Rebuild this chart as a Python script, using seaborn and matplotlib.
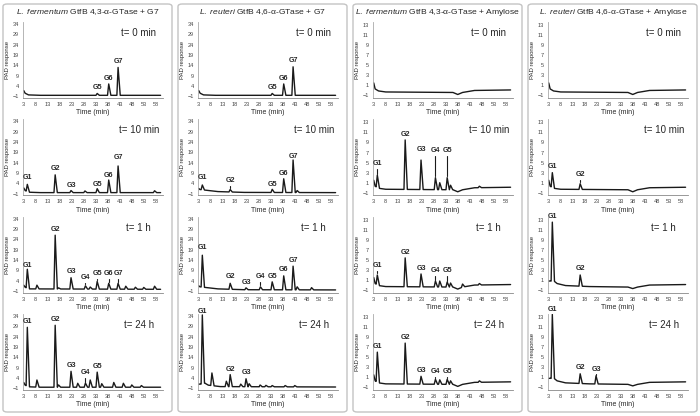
import numpy as np
import matplotlib
matplotlib.use('Agg')
import matplotlib.pyplot as plt
import seaborn as sns
from matplotlib.patches import FancyBboxPatch

sns.set_style('white')
plt.rcParams['font.family'] = ['Liberation Sans', 'DejaVu Sans']
plt.rcParams['mathtext.fontset'] = 'custom'
plt.rcParams['mathtext.it'] = 'Liberation Sans:italic'
plt.rcParams['mathtext.rm'] = 'Liberation Sans'

titles = [r'$\it{L.\ fermentum}$ GtfB 4,3-α-GTase + G7',
          r'$\it{L.\ reuteri}$ GtfB 4,6-α-GTase + G7',
          r'$\it{L.\ fermentum}$ GtfB 4,3-α-GTase + Amylose',
          r'$\it{L.\ reuteri}$ GtfB 4,6-α-GTase + Amylose']
times = ['t= 0 min', 't= 10 min', 't= 1 h', 't= 24 h']
g_names = ['G1', 'G2', 'G3', 'G4', 'G5', 'G6', 'G7']
g_rt = [4.5, 16.1, 22.7, 28.7, 33.6, 38.4, 42.3]
x_ticks = list(range(3, 59, 5))
y_ticks_g7 = [-1, 4, 9, 14, 19, 24, 29, 34]
y_ticks_amy = [-1, 1, 3, 5, 7, 9, 11, 13]

# baselines (time, response)
base_g7 = [(3, 1.8), (3.6, 0.5), (5, -0.3), (10, -0.5), (60, -0.5)]
base_g7_noisy = [(3, 1.8), (3.6, 0.8), (5, 0.0), (60, -0.2)]
base_lr_early = [(3, 1.5), (3.5, 1.0), (5, 0.8), (11, 0.0), (22, -0.4), (60, -0.5)]
base_lr_24h = [(3, 1.0), (3.8, 1.0), (5.5, 1.5), (7, 0.5), (12, -0.2), (60, -0.4)]
base_amy = [(3, 1.5), (3.6, 0.3), (5, -0.1), (8, -0.3), (36, -0.4), (38, -0.8),
            (40, -0.4), (45, 0.0), (60, 0.1)]
base_amy_g1 = [(3, 0.8), (3.8, 0.8), (5.2, 0.8), (6.5, 0.3), (10, -0.1), (20, -0.3),
               (36, -0.4), (38, -0.7), (40, -0.4), (45, 0.0), (60, 0.1)]

# apex heights of G1..G7 (0 = no peak)
lf_g7_heights = [[0, 0, 0, 0, 0.4, 5.0, 13.0],
                 [3.5, 8.1, 0.5, 0, 1.4, 5.6, 12.4],
                 [9.5, 26.0, 5.4, 1.5, 3.6, 2.7, 2.7],
                 [28.5, 29.5, 7.2, 1.5, 6.8, 0, 0]]
lr_g7_heights = [[0, 0, 0, 0, 0.4, 5.0, 13.3],
                 [3.2, 1.0, 0, 0, 1.1, 6.2, 15.3],
                 [16.3, 2.7, 0.5, 1.0, 3.4, 6.3, 11.0],
                 [34.5, 5.6, 3.6, 0.5, 0.3, 0, 0]]
lf_amy_heights = [[0, 0, 0, 0, 0, 0, 0],
                  [2.5, 9.5, 5.5, 2.0, 2.0, 0, 0],
                  [2.0, 5.4, 2.2, 0.8, 0.6, 0, 0],
                  [6.0, 7.8, 1.2, 0.6, 0.6, 0, 0]]
lr_amy_heights = [[0, 0, 0, 0, 0, 0, 0],
                  [3.0, 0.8, 0, 0, 0, 0, 0],
                  [12.5, 2.0, 0, 0, 0, 0, 0],
                  [13.5, 1.7, 1.3, 0, 0, 0, 0]]

# unlabelled peaks (time, apex)
lf_g7_extra = [[],
               [(28.5, 0.3), (57.5, 0.4)],
               [(8.5, 1.8), (17.5, 0.5), (30.7, 0.9), (45.5, 1.3), (49.5, 0.8), (53, 0.7), (57.5, 1.3)],
               [(8.5, 3.0), (17.5, 0.6), (25.5, 1.4), (30.7, 3.0), (35.5, 1.2), (40.5, 1.8),
                (44.5, 1.4), (48, 0.6), (52, 0.3)]]
lr_g7_extra = [[],
               [(44, 0.5)],
               [(44, 1.0), (50, 0.6)],
               [(8.5, 6.4), (14.5, 2.4), (20.5, 1.0), (24, 1.2), (28.5, 0.5), (31, 0.4), (39, 0.3), (43, 0.3)]]
lf_amy_extra = [[],
                [(30.5, 1.0), (35, 0.5), (47, 0.3)],
                [(30.5, 0.8), (35, 0.4), (40, 0.2), (47, 0.3)],
                [(30.5, 0.5), (35, 0.3), (47, 0.3)]]
lr_amy_extra = [[], [], [], []]

# peak labels: (name, y, tick line)
lf_g7_labels = [[('G5', 3.2, 0), ('G6', 7.5, 0), ('G7', 15.8, 0)],
                [('G1', 7.0, 0), ('G2', 11.0, 0), ('G3', 2.8, 0), ('G5', 3.4, 0), ('G6', 8.0, 0), ('G7', 16.3, 0)],
                [('G1', 11.5, 0), ('G2', 28.8, 0), ('G3', 8.5, 0), ('G4', 5.5, 1), ('G5', 7.4, 1),
                 ('G6', 7.4, 1), ('G7', 7.4, 1)],
                [('G1', 31.2, 0), ('G2', 32.3, 0), ('G3', 9.9, 0), ('G4', 6.6, 1), ('G5', 9.6, 0)]]
lr_g7_labels = [[('G5', 3.2, 0), ('G6', 7.5, 0), ('G7', 16.3, 0)],
                [('G1', 7.0, 0), ('G2', 5.4, 1), ('G5', 3.3, 0), ('G6', 8.8, 0), ('G7', 17.0, 0)],
                [('G1', 19.8, 0), ('G2', 6.0, 0), ('G3', 3.2, 0), ('G4', 6.0, 1), ('G5', 6.0, 0),
                 ('G6', 9.6, 0), ('G7', 13.8, 0)],
                [('G1', 36.4, 0), ('G2', 8.3, 0), ('G3', 6.5, 0)]]
lf_amy_labels = [[],
                 [('G1', 4.8, 1), ('G2', 10.6, 0), ('G3', 7.6, 0), ('G4', 7.4, 1), ('G5', 7.4, 1)],
                 [('G1', 3.8, 1), ('G2', 6.5, 0), ('G3', 3.2, 0), ('G4', 2.8, 1), ('G5', 2.8, 1)],
                 [('G1', 7.1, 0), ('G2', 8.9, 0), ('G3', 2.4, 0), ('G4', 2.2, 1), ('G5', 2.2, 1)]]
lr_amy_labels = [[],
                 [('G1', 4.2, 0), ('G2', 2.6, 1)],
                 [('G1', 13.6, 0), ('G2', 3.3, 0)],
                 [('G1', 14.5, 0), ('G2', 2.9, 0), ('G3', 2.6, 1)]]

bases = [[base_g7, base_g7, base_g7_noisy, base_g7],
         [base_g7, base_lr_early, base_lr_early, base_lr_24h],
         [base_amy, base_amy, base_amy, base_amy],
         [base_amy, base_amy, base_amy_g1, base_amy_g1]]
heights = [lf_g7_heights, lr_g7_heights, lf_amy_heights, lr_amy_heights]
extras = [lf_g7_extra, lr_g7_extra, lf_amy_extra, lr_amy_extra]
labels = [lf_g7_labels, lr_g7_labels, lf_amy_labels, lr_amy_labels]


def trace(base, peaks, lw=0.5, rw=0.9):
    bt = np.array([b[0] for b in base], float)
    by = np.array([b[1] for b in base], float)
    keep = np.ones(len(bt), bool)
    for t, h in peaks:
        keep &= ~((bt > t - lw - 0.05) & (bt < t + rw + 0.05))
    xs, ys = list(bt[keep]), list(by[keep])
    for t, h in peaks:
        xs += [t - lw, t, t + rw]
        ys += [np.interp(t - lw, bt, by), h, np.interp(t + rw, bt, by)]
    order = np.argsort(xs)
    return np.array(xs)[order], np.array(ys)[order]


W, H = 700, 416
fig = plt.figure(figsize=(7, 4.16), dpi=100)

for c in range(4):
    x0 = 3 + 175 * c
    box = FancyBboxPatch((x0 / W, 4 / H), 169 / W, 408 / H, boxstyle='round,pad=0,rounding_size=0.006',
                         transform=fig.transFigure, facecolor='white', edgecolor='#c4c4c4', lw=1.0, zorder=-1)
    fig.patches.append(box)
    fig.text((x0 + 85) / W, 1 - 12 / H, titles[c], ha='center', va='center', fontsize=6.1)
    amy = c >= 2
    for r in range(4):
        top = 22 + 97.3 * r
        ax = fig.add_axes([(x0 + 20) / W, 1 - (top + 76) / H, 139.5 / W, 76 / H])
        ax.set_facecolor('none')
        peaks = [(g_rt[i], h) for i, h in enumerate(heights[c][r]) if h > 0] + extras[c][r]
        xs, ys = trace(bases[c][r], peaks)
        sns.lineplot(x=xs, y=ys, ax=ax, color='#1a1a1a', lw=1.0, estimator=None, sort=False)
        span = 15.1 if amy else 36.8
        for name, ly, tick in labels[c][r]:
            i = g_names.index(name)
            ax.text(g_rt[i], ly, name, ha='center', va='center', fontsize=5.1,
                    fontweight='bold', clip_on=False)
            if tick:
                ax.plot([g_rt[i], g_rt[i]], [heights[c][r][i] + 0.02 * span, ly - 0.07 * span],
                        color='#1a1a1a', lw=0.8)
        ax.set_xlim(2.7, 60.8)
        if amy:
            ax.set_ylim(-1.5, 13.6)
            ax.set_yticks(y_ticks_amy)
        else:
            ax.set_ylim(-1.8, 35.0)
            ax.set_yticks(y_ticks_g7)
        ax.set_xticks(x_ticks)
        ax.tick_params(labelsize=4, colors='#444444', length=1.5, width=0.5, pad=1.5)
        ax.set_xlabel('Time (min)', fontsize=5, labelpad=1.5)
        ax.set_ylabel('PAD response', fontsize=4.3, labelpad=2)
        for s in ['top', 'right']:
            ax.spines[s].set_visible(False)
        ax.spines['left'].set_color('#aaaaaa')
        ax.spines['bottom'].set_color('#888888')
        ax.spines['left'].set_linewidth(0.6)
        ax.spines['bottom'].set_linewidth(0.6)
        ax.text(0.83, 0.855, times[r], transform=ax.transAxes, fontsize=7, ha='center', va='center')

fig.savefig('out.png', dpi=100)
